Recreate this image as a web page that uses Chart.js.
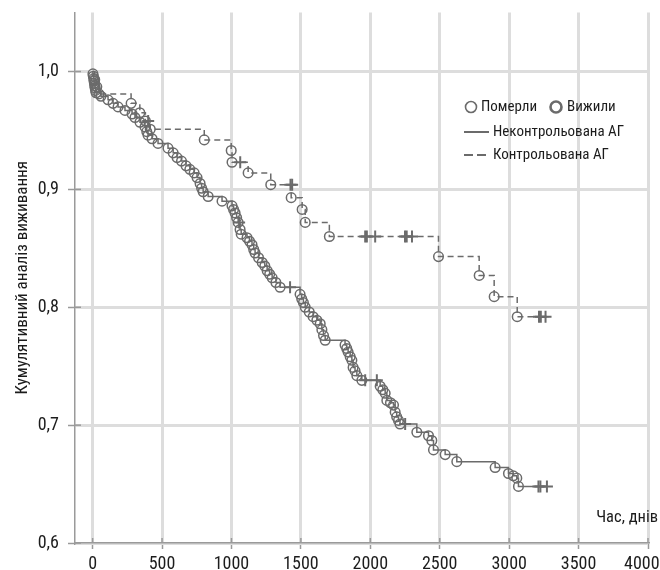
<!DOCTYPE html>
<html>
<head>
<meta charset="utf-8">
<script src="https://cdn.jsdelivr.net/npm/chart.js@4.4.0/dist/chart.umd.min.js"></script>
<style>
  html, body { margin: 0; padding: 0; background: #fff; }
</style>
</head>
<body>
<canvas id="km" width="660" height="570"></canvas>
<script>
// Неконтрольована АГ: events (day, survival after event)
var uncDays = [2,5,8,10,13,15,18,21,25,60,111,147,183,233,284,305,341,377,390,
  399,428,471,543,580,608,640,673,700,731,752,774,785,796,832,932,1004,1015,1026,1037,
  1048,1062,1070,1112,1130,1148,1160,1170,1195,1221,1240,1257,1275,1293,1320,1350,1494,1506,1518,1531,
  1560,1588,1615,1639,1651,1663,1675,1818,1830,1840,1855,1867,1876,1890,1903,1939,2071,2090,2107,2119,
  2145,2167,2179,2190,2203,2214,2335,2419,2443,2455,2539,2623,2899,2995,3030,3055,3067];
var uncSurv = [0.998,0.996,0.994,0.992,0.990,0.988,0.986,0.984,0.982,0.979,0.976,0.973,0.970,0.967,0.964,0.961,0.957,0.953,0.949,
  0.946,0.943,0.939,0.935,0.931,0.927,0.924,0.920,0.917,0.914,0.910,0.905,0.901,0.898,0.894,0.890,0.886,0.883,0.880,0.876,
  0.872,0.866,0.862,0.859,0.856,0.853,0.849,0.846,0.842,0.838,0.835,0.831,0.828,0.825,0.821,0.817,0.811,0.807,0.804,0.800,
  0.796,0.792,0.789,0.786,0.781,0.776,0.772,0.768,0.765,0.762,0.758,0.755,0.749,0.746,0.742,0.738,0.733,0.730,0.727,0.721,
  0.719,0.717,0.711,0.707,0.704,0.701,0.694,0.691,0.687,0.679,0.675,0.669,0.664,0.659,0.657,0.655,0.648];
// Неконтрольована АГ: censored
var uncCensDays = [1055, 1422, 1963, 2047, 2251, 3211, 3225, 3272];
var uncCensSurv = [0.872, 0.817, 0.738, 0.738, 0.701, 0.648, 0.648, 0.648];

// Контрольована АГ: events
var ctlDays = [15,30,45,277,340,380,415,804,998,1004,1120,1283,1430,1509,1531,1705,2491,2784,2892,3058];
var ctlSurv = [0.993,0.987,0.981,0.973,0.965,0.958,0.951,0.942,0.933,0.923,0.914,0.904,0.893,0.883,0.872,0.860,0.843,0.827,0.809,0.792];
// Контрольована АГ: censored
var ctlCensDays = [400,1063,1425,1437,1963,1975,2035,2250,2262,2300,3215,3228,3262];
var ctlCensSurv = [0.958,0.923,0.904,0.904,0.860,0.860,0.860,0.860,0.860,0.860,0.792,0.792,0.792];

var xTicks = [0, 500, 1000, 1500, 2000, 2500, 3000, 3500, 4000];
var yTicks = [0.6, 0.7, 0.8, 0.9, 1.0];

var FONT = "'Liberation Sans Narrow', 'Roboto Condensed', 'Arial Narrow', Roboto, sans-serif";
var MARK = '#6b6b6b';
var AXIS = '#9a9a9a';
var GRID = '#dddddd';
var TEXT = '#1c1c1c';

function pairs(days, surv) {
  return days.map(function (d, i) { return { x: d, y: surv[i] }; });
}
function stepLine(days, surv, endDay) {
  var pts = [{ x: 0, y: 1 }].concat(pairs(days, surv));
  pts.push({ x: endDay, y: surv[surv.length - 1] });
  return pts;
}

var extras = {
  id: 'extras',
  afterDraw: function (chart) {
    var ctx = chart.ctx;
    var xs = chart.scales.x, ys = chart.scales.y;
    ctx.save();
    // tick marks crossing the axes (inner half)
    ctx.strokeStyle = AXIS;
    ctx.lineWidth = 1.5;
    ys.ticks.forEach(function (t) {
      var py = ys.getPixelForValue(t.value);
      ctx.beginPath(); ctx.moveTo(xs.left, py); ctx.lineTo(xs.left + 6, py); ctx.stroke();
    });
    xs.ticks.forEach(function (t) {
      var px = xs.getPixelForValue(t.value);
      ctx.beginPath(); ctx.moveTo(px, ys.bottom); ctx.lineTo(px, ys.bottom - 5); ctx.stroke();
    });

    // x axis caption
    ctx.fillStyle = TEXT;
    ctx.font = '16.5px ' + FONT;
    ctx.textAlign = 'right';
    ctx.textBaseline = 'middle';
    ctx.fillText('Час, днів', 658, 518);

    // legend
    ctx.font = '15px ' + FONT;
    ctx.textAlign = 'left';
    ctx.strokeStyle = MARK;
    ctx.lineWidth = 1.6;
    ctx.beginPath(); ctx.arc(471, 107, 5.5, 0, Math.PI * 2); ctx.stroke();
    ctx.fillText('Померли', 481, 107);
    ctx.lineWidth = 2.6;
    ctx.beginPath(); ctx.arc(556, 107, 5.5, 0, Math.PI * 2); ctx.stroke();
    ctx.fillText('Вижили', 567, 107);

    ctx.lineWidth = 2;
    ctx.beginPath(); ctx.moveTo(464, 132); ctx.lineTo(489, 132); ctx.stroke();
    ctx.fillText('Неконтрольована АГ', 493, 132);

    ctx.setLineDash([9, 4]);
    ctx.beginPath(); ctx.moveTo(464, 155); ctx.lineTo(489, 155); ctx.stroke();
    ctx.setLineDash([]);
    ctx.fillText('Контрольована АГ', 493, 155);
    ctx.restore();
  }
};

new Chart(document.getElementById('km'), {
  type: 'scatter',
  data: {
    datasets: [
      {
        label: 'Неконтрольована АГ',
        data: stepLine(uncDays, uncSurv, 3272),
        showLine: true, stepped: true,
        borderColor: MARK, borderWidth: 1.5,
        pointRadius: 0
      },
      {
        label: 'Контрольована АГ',
        data: stepLine(ctlDays, ctlSurv, 3283),
        showLine: true, stepped: true,
        borderColor: MARK, borderWidth: 1.5, borderDash: [6, 4],
        pointRadius: 0
      },
      {
        label: 'Померли',
        data: pairs(uncDays, uncSurv).concat(pairs(ctlDays, ctlSurv)),
        pointStyle: 'circle', pointRadius: 4.8,
        pointBorderWidth: 1.5, pointBorderColor: MARK,
        pointBackgroundColor: 'rgba(255,255,255,0)'
      },
      {
        label: 'Вижили',
        data: pairs(uncCensDays, uncCensSurv).concat(pairs(ctlCensDays, ctlCensSurv)),
        pointStyle: 'cross', pointRadius: 6,
        pointBorderWidth: 2, pointBorderColor: MARK
      }
    ]
  },
  options: {
    responsive: false,
    animation: false,
    layout: { padding: { top: 12.6, right: 12, left: 0, bottom: 0 } },
    plugins: {
      legend: { display: false },
      tooltip: { enabled: false }
    },
    scales: {
      x: {
        type: 'linear',
        min: -127, max: 4000,
        afterBuildTicks: function (scale) {
          scale.ticks = xTicks.map(function (v) { return { value: v }; });
        },
        afterFit: function (scale) {
          scale.height = 27;
          scale.paddingLeft = 0; scale.paddingRight = 0;
        },
        grid: { color: GRID, lineWidth: 3, tickColor: AXIS, tickLength: 6, tickWidth: 1.5 },
        border: { color: AXIS, width: 1.5 },
        ticks: {
          padding: 5, color: TEXT, autoSkip: false,
          font: { family: FONT, size: 18 }, maxRotation: 0,
          // keep the last label inside the canvas
          callback: function (v) { return v === 4000 ? '4000   ' : String(v); }
        }
      },
      y: {
        min: 0.6, max: 1.05,
        afterBuildTicks: function (scale) {
          scale.ticks = yTicks.map(function (v) { return { value: v }; });
        },
        afterFit: function (scale) {
          scale.width = 75;
          scale.paddingTop = 0; scale.paddingBottom = 0;
        },
        grid: { color: GRID, lineWidth: 3, tickColor: AXIS, tickLength: 7, tickWidth: 1.5 },
        border: { color: AXIS, width: 1.5 },
        ticks: {
          padding: 9, color: TEXT,
          font: { family: FONT, size: 18 },
          callback: function (v) { return v.toFixed(1).replace('.', ','); }
        },
        title: {
          display: true,
          text: 'Кумулятивний аналіз виживання',
          color: TEXT,
          font: { family: FONT, size: 17 },
          padding: { top: 13, bottom: 0 }
        }
      }
    }
  },
  plugins: [extras]
});
</script>
</body>
</html>
